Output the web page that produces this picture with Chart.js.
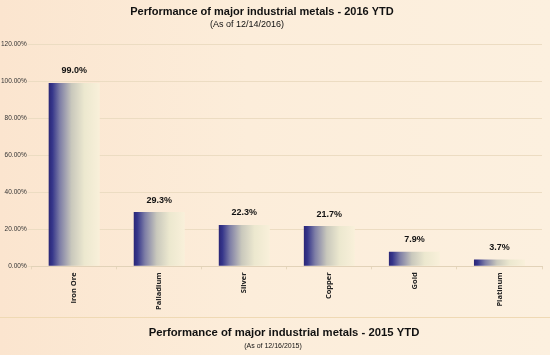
<!DOCTYPE html>
<html>
<head>
<meta charset="utf-8">
<script src="https://cdn.jsdelivr.net/npm/chart.js@4/dist/chart.umd.min.js"></script>
<style>
html,body{margin:0;padding:0;background:#fcecdb;}
#wrap{width:550px;height:355px;position:relative;background:linear-gradient(90deg,#fbe5cf 0%,#fcedda 45%,#fcf0df 100%);}
</style>
</head>
<body>
<div id="wrap"><canvas id="c" width="550" height="355"></canvas></div>
<script>
const categories = ["Iron Ore","Palladium","Silver","Copper","Gold","Platinum"];
const values = [99.0, 29.3, 22.3, 21.7, 7.9, 3.7];
const yTicks = [0,20,40,60,80,100,120];
const title = "Performance of major industrial metals - 2016 YTD";
const subtitle = "(As of 12/14/2016)";
const title2 = "Performance of major industrial metals - 2015 YTD";
const subtitle2 = "(As of 12/16/2015)";

const BAR_PCT = 0.6;

function barGradient(c){
  const chart = c.chart;
  if(!chart.chartArea || !chart.scales.x) return '#3a3a8c';
  const xs = chart.scales.x;
  const cx = xs.getPixelForValue(c.dataIndex);
  const w = (xs.width / categories.length) * BAR_PCT;
  const x0 = cx - w/2, x1 = cx + w/2;
  const g = chart.ctx.createLinearGradient(x0,0,x1,0);
  g.addColorStop(0,'#2a2676');
  g.addColorStop(0.07,'#35358a');
  g.addColorStop(0.22,'#7e7ea6');
  g.addColorStop(0.45,'#c9c8bc');
  g.addColorStop(0.7,'#ece8cf');
  g.addColorStop(1,'#f9f0da');
  return g;
}

const textPlugin = {
  id:'texts',
  afterDatasetsDraw(chart){
    const ctx = chart.ctx;
    const meta = chart.getDatasetMeta(0);
    ctx.save();
    ctx.fillStyle = '#111';
    ctx.font = 'bold 9px "Liberation Sans Narrow", "Liberation Sans", Arial, sans-serif';
    ctx.textAlign = 'center';
    ctx.textBaseline = 'middle';
    meta.data.forEach((bar,i)=>{
      ctx.fillText(values[i].toFixed(1)+'%', bar.x, bar.y - 12);
    });
    ctx.restore();
  },
  afterDraw(chart){
    const ctx = chart.ctx;
    ctx.save();
    ctx.fillStyle = '#111';
    ctx.textAlign = 'center';
    ctx.textBaseline = 'middle';
    ctx.font = 'bold 11px "Liberation Sans", Arial, sans-serif';
    ctx.fillText(title, 262, 12);
    ctx.font = '9px "Liberation Sans Narrow", "Liberation Sans", Arial, sans-serif';
    ctx.fillText(subtitle, 247, 25);
    // separator line
    ctx.strokeStyle = '#efd9b4';
    ctx.lineWidth = 1;
    ctx.beginPath();
    ctx.moveTo(0, 317.5);
    ctx.lineTo(550, 317.5);
    ctx.stroke();
    ctx.font = 'bold 11.3px "Liberation Sans", Arial, sans-serif';
    ctx.fillText(title2, 284, 333);
    ctx.font = '7px "Liberation Sans", Arial, sans-serif';
    ctx.fillText(subtitle2, 273, 346);
    ctx.restore();
  }
};

new Chart(document.getElementById('c'), {
  type:'bar',
  data:{
    labels: categories,
    datasets:[{
      data: values,
      backgroundColor: barGradient,
      borderWidth: 0,
      categoryPercentage: 1,
      barPercentage: BAR_PCT
    }]
  },
  options:{
    responsive:false,
    animation:false,
    devicePixelRatio:1,
    layout:{padding:{top:44, right:8, left:0, bottom:42}},
    plugins:{legend:{display:false}, tooltip:{enabled:false}, title:{display:false}},
    scales:{
      x:{
        grid:{display:true, drawOnChartArea:false, color:'#e6d6bc', tickLength:3, offset:true},
        border:{color:'#e2d2b8'},
        ticks:{
          color:'#222', minRotation:90, maxRotation:90, padding:3,
          font:{family:'"Open Sans", "DejaVu Sans", sans-serif', size:7.5, weight:'bold'}
        }
      },
      y:{
        min:0, max:120,
        afterBuildTicks(axis){ axis.ticks = yTicks.map(v=>({value:v})); },
        grid:{color:'#ecdcc2', tickLength:4},
        border:{display:false},
        ticks:{
          color:'#333', padding:1,
          font:{family:'"Liberation Sans Narrow", "Liberation Sans", Arial, sans-serif', size:6.5},
          callback:(v)=>v.toFixed(2)+'%'
        }
      }
    }
  },
  plugins:[textPlugin]
});
</script>
</body>
</html>
